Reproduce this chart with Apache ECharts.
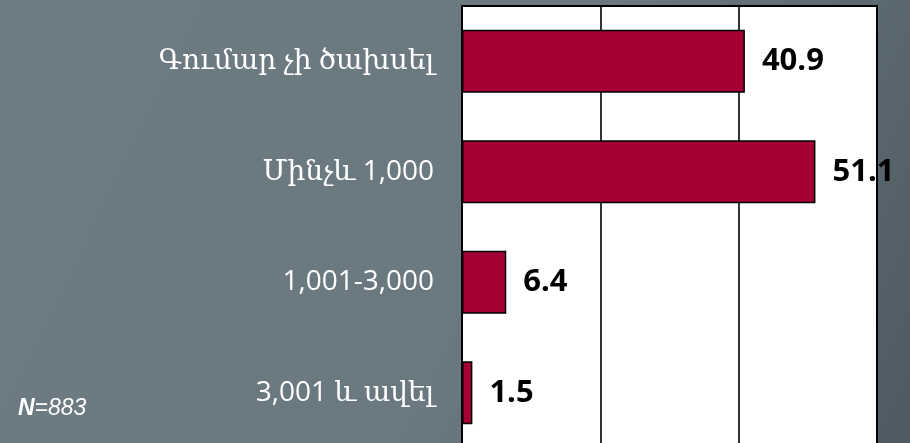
<!DOCTYPE html>
<html>
<head>
<meta charset="utf-8">
<script src="https://cdn.jsdelivr.net/npm/echarts@6/dist/echarts.min.js"></script>
<style>
  html, body { margin: 0; padding: 0; }
  #chart { width: 910px; height: 443px; }
</style>
</head>
<body>
<div id="chart"></div>
<script>
// categories (top to bottom) and shares, %
const categories = ['Գումար չի ծախսել', 'Մինչև 1,000', '1,001-3,000', '3,001 և ավել']
const values = [40.9, 51.1, 6.4, 1.5]
const sampleNote = 'N=883'

const chart = echarts.init(document.getElementById('chart'))

chart.setOption({
  backgroundColor: {
    type: 'linear',
    x: 0, y: 0, x2: 1, y2: 1,
    colorStops: [
      { offset: 0, color: '#6d7b83' },
      { offset: 0.55, color: '#6a7880' },
      { offset: 1, color: '#4d5a61' }
    ]
  },
  animation: false,
  grid: {
    left: 462,
    top: 6,
    width: 415,
    height: 442,
    outerBoundsMode: 'none',
    show: true,
    backgroundColor: '#fff',
    borderColor: '#000',
    borderWidth: 2
  },
  xAxis: {
    type: 'value',
    min: 0,
    max: 60,
    interval: 20,
    axisLabel: { show: false },
    axisTick: { show: false },
    axisLine: { show: false },
    splitLine: { lineStyle: { color: '#000', width: 1.6 } }
  },
  yAxis: {
    type: 'category',
    inverse: true,
    data: categories,
    axisTick: { show: false },
    axisLine: { show: true, lineStyle: { color: '#000', width: 2 } },
    axisLabel: {
      color: '#fff',
      fontSize: 28,
      margin: 28,
      fontFamily: '"Open Sans", "DejaVu Serif", serif'
    }
  },
  series: [
    {
      type: 'bar',
      data: values,
      barWidth: '57%',
      itemStyle: {
        color: '#a50034',
        borderColor: '#000',
        borderWidth: 1.5
      },
      label: {
        show: true,
        position: 'right',
        distance: 17,
        color: '#000',
        fontSize: 31,
        fontWeight: 'bold',
        fontFamily: '"Open Sans", sans-serif',
        formatter: p => p.value.toFixed(1)
      }
    }
  ],
  graphic: [
    {
      type: 'text',
      left: 18,
      top: 397,
      style: {
        text: '{n|N}{r|' + sampleNote.slice(1) + '}',
        rich: {
          n: { fill: '#fff', font: 'italic bold 23px "Liberation Sans", sans-serif' },
          r: { fill: '#fff', font: 'italic 23px "Liberation Sans", sans-serif' }
        }
      }
    }
  ]
})
</script>
</body>
</html>
